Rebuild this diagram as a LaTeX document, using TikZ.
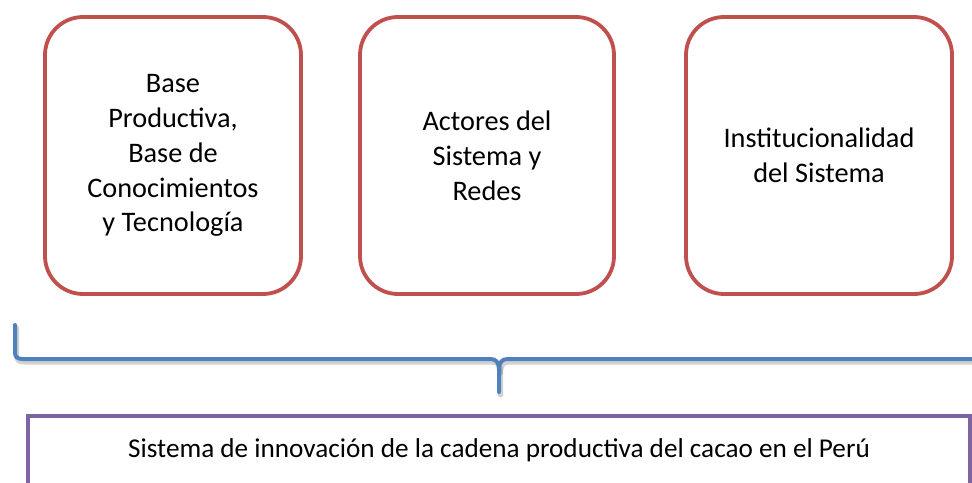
\documentclass[tikz,border=0pt]{standalone}
\usepackage{fontspec}
\setmainfont{Carlito}
\definecolor{boxred}{HTML}{C0504D}
\definecolor{braceblue}{HTML}{4F81BD}
\definecolor{boxpurple}{HTML}{8064A2}
\begin{document}
\begin{tikzpicture}[x=1bp,y=-1bp,
  pillar/.style={draw=boxred, line width=3.8bp, rounded corners=38bp, align=center,
    inner sep=0pt, font=\fontsize{28.4}{35}\selectfont, minimum height=277bp},
  basebox/.style={draw=boxpurple, line width=3.8bp, inner sep=0pt,
    font=\fontsize{27.3}{34}\selectfont, text height=20bp, text depth=26bp},
  bracestyle/.style={draw=braceblue, line width=4bp, line cap=round, line join=round},
  braceshadow/.style={draw=black, opacity=0.18, line width=5bp, line cap=round, line join=round}]
\useasboundingbox (0,0) rectangle (972,483);
\clip (0,0) rectangle (972,483);
\fill[white] (0,0) rectangle (972,483);
\node[pillar, minimum width=256bp] (b1) at (173,155.5)
  {Base\\Productiva,\\Base de\\Conocimientos\\y Tecnología};
\node[pillar, minimum width=254bp] (b2) at (487,155.5)
  {Actores del\\Sistema y\\Redes};
\node[pillar, minimum width=266bp] (b3) at (819,155.5)
  {Institucionalidad\\del Sistema};
\node[basebox, anchor=north, minimum width=942bp, minimum height=90bp] (sys) at (499,414)
  {Sistema de innovación de la cadena productiva del cacao en el Perú};
% brace shadow
\begin{scope}[shift={(1.5,3)}]
\draw[braceshadow] (15,325) -- (15,352) .. controls (15,357) and (17,359) .. (23,359)
  -- (490,359) .. controls (496,359) and (499,362) .. (499,370) -- (499,392);
\draw[braceshadow] (499,370) .. controls (499,362) and (502,359) .. (508,359) -- (990,359);
\end{scope}
% brace
\draw[bracestyle] (15,325) -- (15,352) .. controls (15,357) and (17,359) .. (23,359)
  -- (490,359) .. controls (496,359) and (499,362) .. (499,370) -- (499,392);
\draw[bracestyle] (499,370) .. controls (499,362) and (502,359) .. (508,359) -- (990,359);
\end{tikzpicture}
\end{document}
